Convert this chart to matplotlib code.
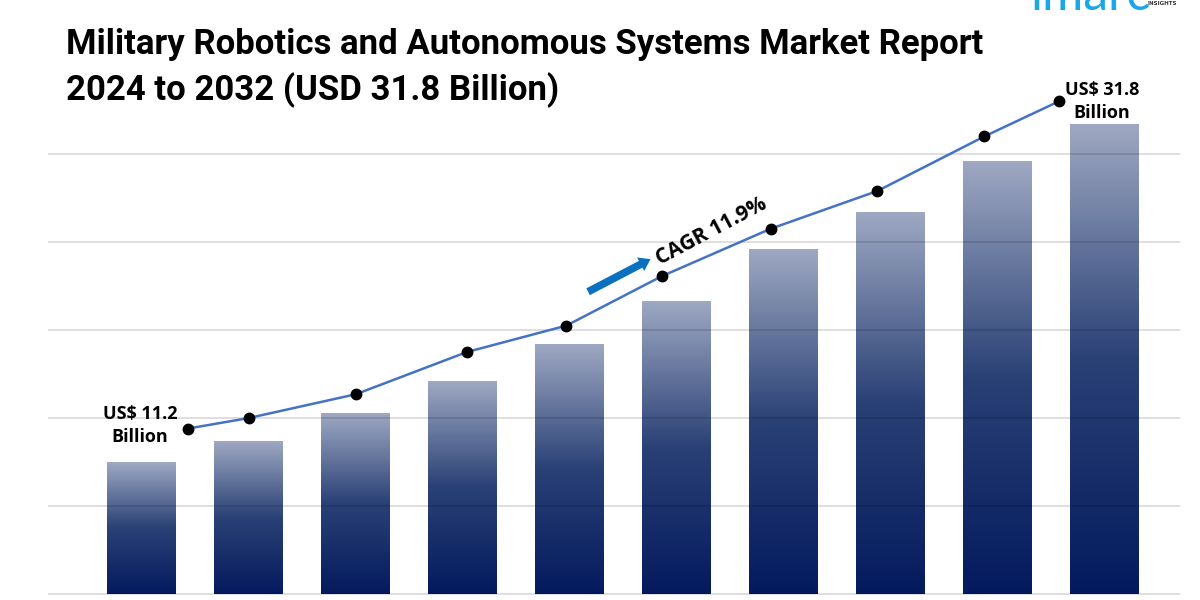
import numpy as np
import matplotlib
matplotlib.use("Agg")
import matplotlib.pyplot as plt
from matplotlib.colors import LinearSegmentedColormap

# data (grid units)
years = ["2024", "2025", "2026", "2027", "2028", "2029", "2030", "2031", "2032", "2033"]
bar_vals = [1.49, 1.73, 2.05, 2.42, 2.83, 3.32, 3.92, 4.33, 4.91, 5.34]
line_x = [0.43, 1.0, 2.0, 3.04, 3.97, 4.86, 5.88, 6.88, 7.88, 8.58]
line_vals = [1.88, 2.0, 2.27, 2.75, 3.05, 3.61, 4.15, 4.58, 5.2, 5.6]
grid_vals = [0, 1, 2, 3, 4, 5]

title = "Military Robotics and Autonomous Systems Market Report\n2024 to 2032 (USD 31.8 Billion)"
start_label = "US$ 11.2\nBillion"
end_label = "US$ 31.8\nBillion"
cagr_label = "CAGR 11.9%"

title_font = ["Liberation Sans Narrow", "Roboto", "DejaVu Sans"]
label_font = ["Open Sans", "DejaVu Sans"]

fig = plt.figure(figsize=(12, 6), dpi=100)
ax = fig.add_axes([0, 0, 1, 1])
ax.set_xlim(-1.328, 9.897)
ax.set_ylim(-0.068, 6.75)
ax.axis("off")

# gridlines, drawn over the bars
ax.hlines(grid_vals, -0.88, 9.71, color="black", alpha=0.15, lw=1.2, zorder=3)

# gradient bars
cmap = LinearSegmentedColormap.from_list("bar", ["#041a5e", "#2a4176", "#9ea8c2"])
grad = np.linspace(0, 1, 256).reshape(-1, 1)
w = 0.645
for i, v in enumerate(bar_vals):
    ax.imshow(grad, extent=[i - w / 2, i + w / 2, 0, v], origin="lower",
              aspect="auto", cmap=cmap, zorder=2)

# line with dots
ax.plot(line_x, line_vals, color="#4472c4", lw=1.8, zorder=4)
ax.plot(line_x, line_vals, "o", color="black", ms=7.5, zorder=5)

# value labels
ax.text(-0.02, 1.91, start_label, ha="center", va="center", fontsize=13,
        fontweight="bold", family=label_font, linespacing=1.35, zorder=6)
ax.text(8.98, 5.6, end_label, ha="center", va="center", fontsize=13,
        fontweight="bold", family=label_font, linespacing=1.35, zorder=6)

# CAGR arrow and text
ax.annotate("", xy=(4.78, 3.82), xytext=(4.15, 3.42),
            arrowprops=dict(arrowstyle="simple,head_width=1.1,head_length=0.8,tail_width=0.55",
                            color="#0a70c0", lw=0), zorder=6)
ax.text(5.33, 4.12, cagr_label, ha="center", va="center", rotation=28,
        fontsize=15, fontweight="bold", family=label_font, zorder=6)

# title
fig.text(66 / 1200, 1 - 28 / 600, title, ha="left", va="top", fontsize=25,
         fontweight="bold", family=title_font, linespacing=1.4)

# logo, cut at the top edge
fig.text(1030 / 1200, 1 - 10 / 600, "imarc", ha="left", va="baseline",
         fontsize=36, color="#1aa7e8", family=["Lato", "DejaVu Sans"])
fig.text(1148 / 1200, 1 - 5 / 600, "INSIGHTS", ha="left", va="baseline",
         fontsize=4, color="#333333", fontweight="bold")

fig.savefig("out.png", dpi=100)
